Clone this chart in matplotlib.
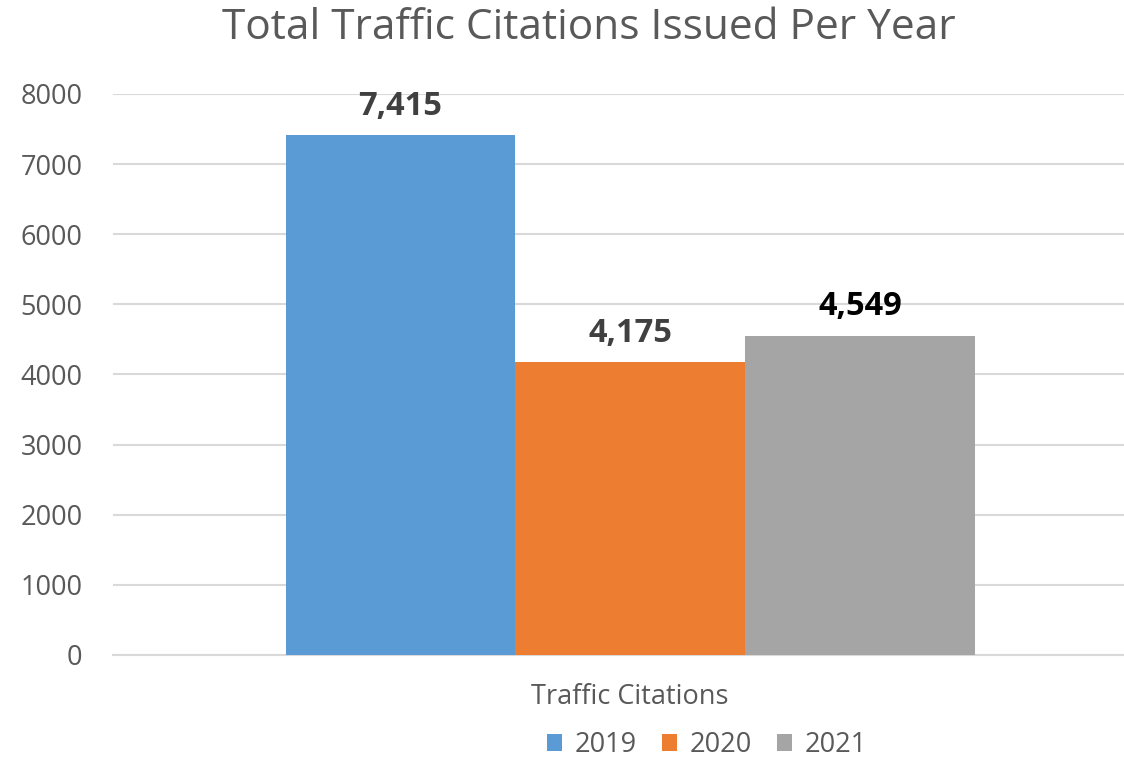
import matplotlib.pyplot as plt
from matplotlib.patches import Patch

plt.rcParams['font.family'] = ['Open Sans', 'DejaVu Sans']

category = "Traffic Citations"
years = ["2019", "2020", "2021"]
citations = [7415, 4175, 4549]
bar_colors = ["#5B9BD5", "#ED7D31", "#A5A5A5"]
label_colors = ["#404040", "#404040", "#000000"]
y_ticks = [0, 1000, 2000, 3000, 4000, 5000, 6000, 7000, 8000]

text_gray = "#595959"
grid_gray = "#D9D9D9"

fig = plt.figure(figsize=(11.24, 7.58), dpi=100)
ax = fig.add_axes([0.1005, 0.1359, 0.8995, 0.7401])

width = 1.0
offsets = [-width, 0.0, width]
for off, val, col, lcol in zip(offsets, citations, bar_colors, label_colors):
    ax.bar(off, val, width=width, color=col, zorder=3)
    ax.annotate(f"{val:,}", xy=(off, val), xytext=(0, 9), textcoords="offset points",
                ha="center", va="bottom", fontsize=23.5, fontweight="bold", color=lcol)

ax.set_xlim(-2.251, 2.149)
ax.set_ylim(0, 8000)
ax.set_yticks(y_ticks)
ax.set_yticklabels([str(t) for t in y_ticks])
ax.set_xticks([0])
ax.set_xticklabels([category])

ax.grid(axis="y", color=grid_gray, linewidth=1.5, zorder=0)
for side in ["top", "right", "left"]:
    ax.spines[side].set_visible(False)
ax.spines["bottom"].set_color(grid_gray)
ax.spines["bottom"].set_linewidth(1.5)
ax.tick_params(axis="both", length=0, colors=text_gray, labelsize=19.5)
ax.tick_params(axis="y", pad=22)
ax.tick_params(axis="x", pad=20)

fig.suptitle("Total Traffic Citations Issued Per Year", x=(222 + 955) / 2 / 1124, y=1 - 28 / 758,
             va="center", fontsize=30.5, color=text_gray)

handles = [Patch(facecolor=c, edgecolor="none") for c in bar_colors]
fig.legend(handles, years, loc="center", bbox_to_anchor=(707 / 1124, 1 - 745 / 758), ncol=3,
           frameon=False, fontsize=19.5, labelcolor=text_gray, handlelength=0.55, handleheight=0.55,
           handletextpad=0.45, columnspacing=0.95, borderpad=0)

fig.savefig("out.png", dpi=100)
